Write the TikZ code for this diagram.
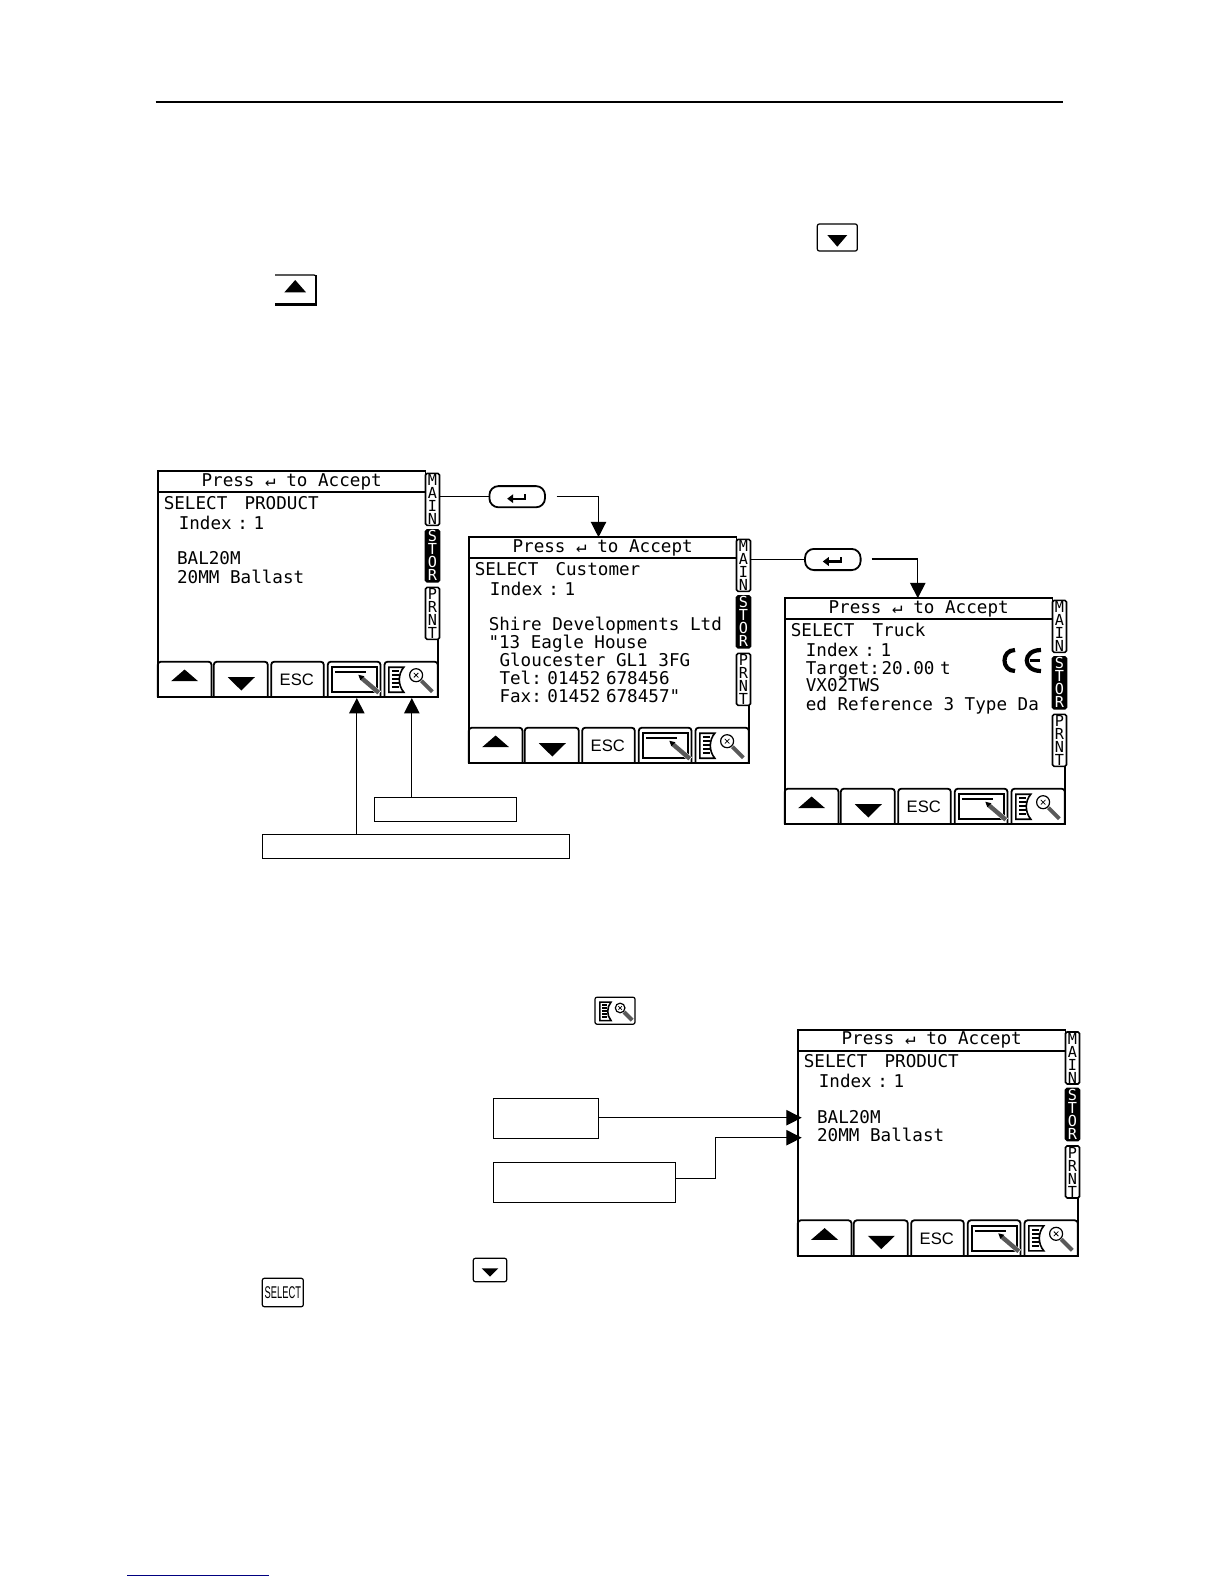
\documentclass[tikz,border=0pt]{standalone}
\usepackage{fontspec}
\setmainfont{Liberation Sans}
\newfontfamily\scrfont{DejaVu Sans Mono}
\usetikzlibrary{arrows.meta}
\newcommand{\ts}{\kern-2.5pt\ }
\tikzset{
  x=0.5pt,y=-0.5pt,
  scrline/.style={line width=0.9pt,line join=miter},
  scrtext/.style={font=\scrfont\fontsize{8.8}{10}\selectfont,anchor=base west,inner sep=0pt,outer sep=0pt},
  titlebox/.style={draw,line width=0.9pt,inner sep=0pt,outer sep=0pt,anchor=north west,minimum width=133.85pt,minimum height=10.5pt,font=\scrfont\fontsize{8.8}{10}\selectfont},
  bodybox/.style={inner sep=0pt,outer sep=0pt,anchor=north west,minimum width=140pt,minimum height=113pt},
  tabbox/.style={draw,line width=0.8pt,rounded corners=0.8pt,inner sep=0pt,outer sep=0pt,minimum width=7pt,minimum height=26pt,align=center,font=\scrfont\fontsize{7.6}{6.5}\selectfont},
  wirestyle/.style={line width=0.65pt},
  tipped/.style={wirestyle,-{Triangle[length=7.7pt,width=7.7pt]}},
  lblbox/.style={draw,line width=0.65pt,inner sep=0pt,outer sep=0pt,fill=white},
  pillbox/.style={draw,line width=0.9pt,rounded corners=4.5pt,inner sep=0pt,outer sep=0pt,minimum width=27.8pt,minimum height=10.6pt},
  keybox/.style={draw,line width=0.6pt,rounded corners=1pt,inner sep=0pt,outer sep=0pt,fill=white},
  bareknob/.style={inner sep=0pt,outer sep=0pt},
}
\newcommand{\trimark}[4]{\fill ({#1-#3},#4) -- ({#1+#3},#4) -- (#1,#2) -- cycle;}
\newcommand{\trimarkdown}[4]{\fill ({#1-#3},#2) -- ({#1+#3},#2) -- (#1,#4) -- cycle;}
\newcommand{\softbtn}[2]{\draw[scrline,rounded corners=1.5pt] (#1,226) -- (#1,190.5) -- (#2,190.5) -- (#2,226);}
\newcommand{\searchicon}{%
  \draw[line width=0.8pt,fill=white] (231,196) -- (246,196) .. controls (240,203) and (240,214) .. (246,221) -- (231,221) -- cycle;
  \foreach \ya in {200,204,208,212,216}{\draw[line width=0.8pt] (234,\ya) -- (241,\ya);}
  \draw[line width=0.6pt] (258.3,204) circle (6.5);
  \draw[line width=0.4pt] (256,201.7) -- (260.6,206.3) (256,206.3) -- (260.6,201.7);
  \draw[line width=2pt,black!65] (263.5,209.5) -- (274.5,220.5);
}
\newcommand{\penicon}{%
  \draw[line width=0.8pt] (174.3,196) rectangle (219.3,221);
  \draw[line width=0.8pt] (177,201) -- (208,201);
  \draw[line width=2.6pt,white] (203,206) -- (221.5,222);
  \draw[line width=2.2pt,black!65] (204,207) -- (221,221.5);
  \fill (200.5,203.5) -- (206.5,205) -- (202.5,209) -- cycle;
}
\newcommand{\scrn}[4]{%
\begin{scope}[shift={(#2,#3)}]
  \node[bodybox] (#1-body) at (0,0) {};
  \draw[scrline] (267.7,0) -- (0,0) -- (0,226) -- (280,226) -- (280,168);
  \draw[line width=1.1pt] (0,226) -- (280,226);
  \node[titlebox] (#1-title) at (0,0) {\raisebox{-1pt}{Press ↵ to Accept}};
  \node[tabbox] (#1-main) at (274.7,28.15) {M\\A\\I\\N};
  \node[tabbox,fill=black,text=white] (#1-stor) at (274.7,84.65) {S\\T\\O\\R};
  \node[tabbox] (#1-prnt) at (274.7,142.15) {P\\R\\N\\T};
  \softbtn{0}{53.7}\softbtn{56}{110}\softbtn{113.4}{166}\softbtn{170}{222.7}\softbtn{226.7}{280}
  \trimark{26.8}{198.3}{13.5}{210}
  \trimarkdown{83.5}{206}{13.5}{219.3}
  \node[font=\fontsize{8.3}{10}\selectfont,inner sep=0pt] (#1-esc) at (139,209) {ESC};
  \penicon
  \searchicon
  #4
\end{scope}}
\newcommand{\tline}[3]{\node[scrtext] at (#1,{#2+6}) {#3};}
\newcommand{\enterglyph}[1]{%
  \begin{scope}[shift={(#1.center)}]
    \draw[line width=1.2pt] (-5,2) -- (8,2) -- (8,-2.5);
    \fill (-10,2) -- (-4,-2.5) -- (-4,6.5) -- cycle;
  \end{scope}}
\begin{document}
\begin{tikzpicture}
\useasboundingbox (0,0) rectangle (1224,1584);
\fill[white] (0,0) rectangle (1224,1584);
% rules
\draw[line width=1pt] (155.5,101.7) -- (1063,101.7);
\draw[line width=0.8pt,color={rgb,255:red,0;green,0;blue,128}] (127,1575.3) -- (269,1575.3);
% keys in the page
\node[keybox,minimum width=20pt,minimum height=13.5pt] (kdown) at (837.3,237.5) {};
\trimarkdown{837.3}{235}{10}{246.7}
\node[bareknob,minimum width=20.5pt,minimum height=14.7pt] (kup) at (295.5,289.7) {};
\draw[line width=0.6pt,rounded corners=1pt] (kup.north west) -- (kup.north east) -- (kup.south east) -- (kup.south west);
\trimark{295.2}{280}{10.8}{292.3}
\draw[line width=1.1pt] (kup.south west) -- (kup.south east) -- (kup.north east);
\node[keybox,minimum width=20pt,minimum height=13.5pt] (ksearch) at (615,1010.7) {};
\begin{scope}[shift={(429,857)},scale=0.74]
  \searchicon
\end{scope}
\node[keybox,minimum width=16.7pt,minimum height=11.7pt] (kdown2) at (490,1270) {};
\trimarkdown{490}{1268.3}{8.3}{1276.7}
\node[keybox,minimum width=20.5pt,minimum height=14.2pt] (kselect) at (282.8,1292.5) {};
\node[font=\fontsize{8.5}{10}\selectfont,xscale=0.55,inner sep=0pt] (kselecttext) at (282.8,1292.5) {SELECT};
% screen 1
\scrn{a}{157.8}{471.2}{
  \tline{6}{32}{SELECT\kern-2pt~~PRODUCT}
  \tline{21}{52}{Index\ts:\ts 1}
  \tline{19.3}{87.6}{BAL20M}
  \tline{19.3}{106}{20MM Ballast}
}
% screen 2
\scrn{b}{468.8}{537.2}{
  \tline{6}{32}{SELECT\kern-2pt~~Customer}
  \tline{21}{52}{Index\ts:\ts 1}
  \tline{20}{87.6}{Shire Developments Ltd}
  \tline{19.7}{105}{"13 Eagle House}
  \tline{30.7}{123}{Gloucester GL1 3FG}
  \tline{30.7}{141}{Tel:\ts 01452\ts 678456}
  \tline{30.7}{159}{Fax:\ts 01452\ts 678457"}
}
% screen 3
\scrn{c}{784.8}{598.2}{
  \tline{6}{32}{SELECT\kern-1.5pt~~Truck}
  \tline{21}{52}{Index\ts:\ts 1}
  \tline{21}{70}{Target:\kern-2pt\ts 20.00\ts t}
  \tline{21}{87}{VX02TWS}
  \tline{21}{106}{ed Reference 3 Type Da}
}
% CE mark
\draw[line width=2.1pt] (1015,650) .. controls (1001,650) and (1001,671) .. (1015,671);
\draw[line width=2.1pt] (1041,650) .. controls (1022,650) and (1022,671) .. (1041,671);
\draw[line width=1.8pt] (1030,660.5) -- (1040,660.5);
% screen 4
\scrn{d}{797.8}{1029.8}{
  \tline{6}{32}{SELECT\kern-2pt~~PRODUCT}
  \tline{21}{52}{Index\ts:\ts 1}
  \tline{19.3}{87.6}{BAL20M}
  \tline{19.3}{106}{20MM Ballast}
}
% enter keys
\node[pillbox] (p1) at (517.2,496.7) {};
\enterglyph{p1}
\node[pillbox] (p2) at (832.8,559.5) {};
\enterglyph{p2}
% connectors, top
\coordinate (f1) at (556.7,496.7);
\coordinate (t1) at (598.5,537.2);
\coordinate (f2) at (871.7,559);
\coordinate (t2) at (917.8,598.2);
\draw[wirestyle] (a-main.east |- p1.west) -- (p1.west);
\draw[tipped] (f1) -| (t1);
\draw[wirestyle] (b-main.east |- p2.west) -- (p2.west);
\draw[tipped] (f2) -| (t2);
% label boxes
\node[lblbox,minimum width=71.2pt,minimum height=12pt] (la) at (445.5,809.3) {};
\node[lblbox,minimum width=153.5pt,minimum height=12pt] (lb) at (415.8,846.3) {};
\node[lblbox,minimum width=52.7pt,minimum height=20pt] (lc) at (546,1118.3) {};
\node[lblbox,minimum width=91.2pt,minimum height=20pt] (ld) at (584.5,1182.3) {};
\coordinate (t3) at (411.8,698);
\coordinate (t4) at (356.8,698);
\coordinate (t5) at (801.7,1117.7);
\coordinate (t6) at (801.7,1137.7);
\coordinate (e6) at (715.5,1178.3);
\draw[tipped] (t3 |- la.north) -- (t3);
\draw[tipped] (t4 |- lb.north) -- (t4);
\draw[tipped] (lc.east |- t5) -- (t5);
\draw[tipped] (ld.east |- e6) -- (e6) |- (t6);
\end{tikzpicture}
\end{document}
